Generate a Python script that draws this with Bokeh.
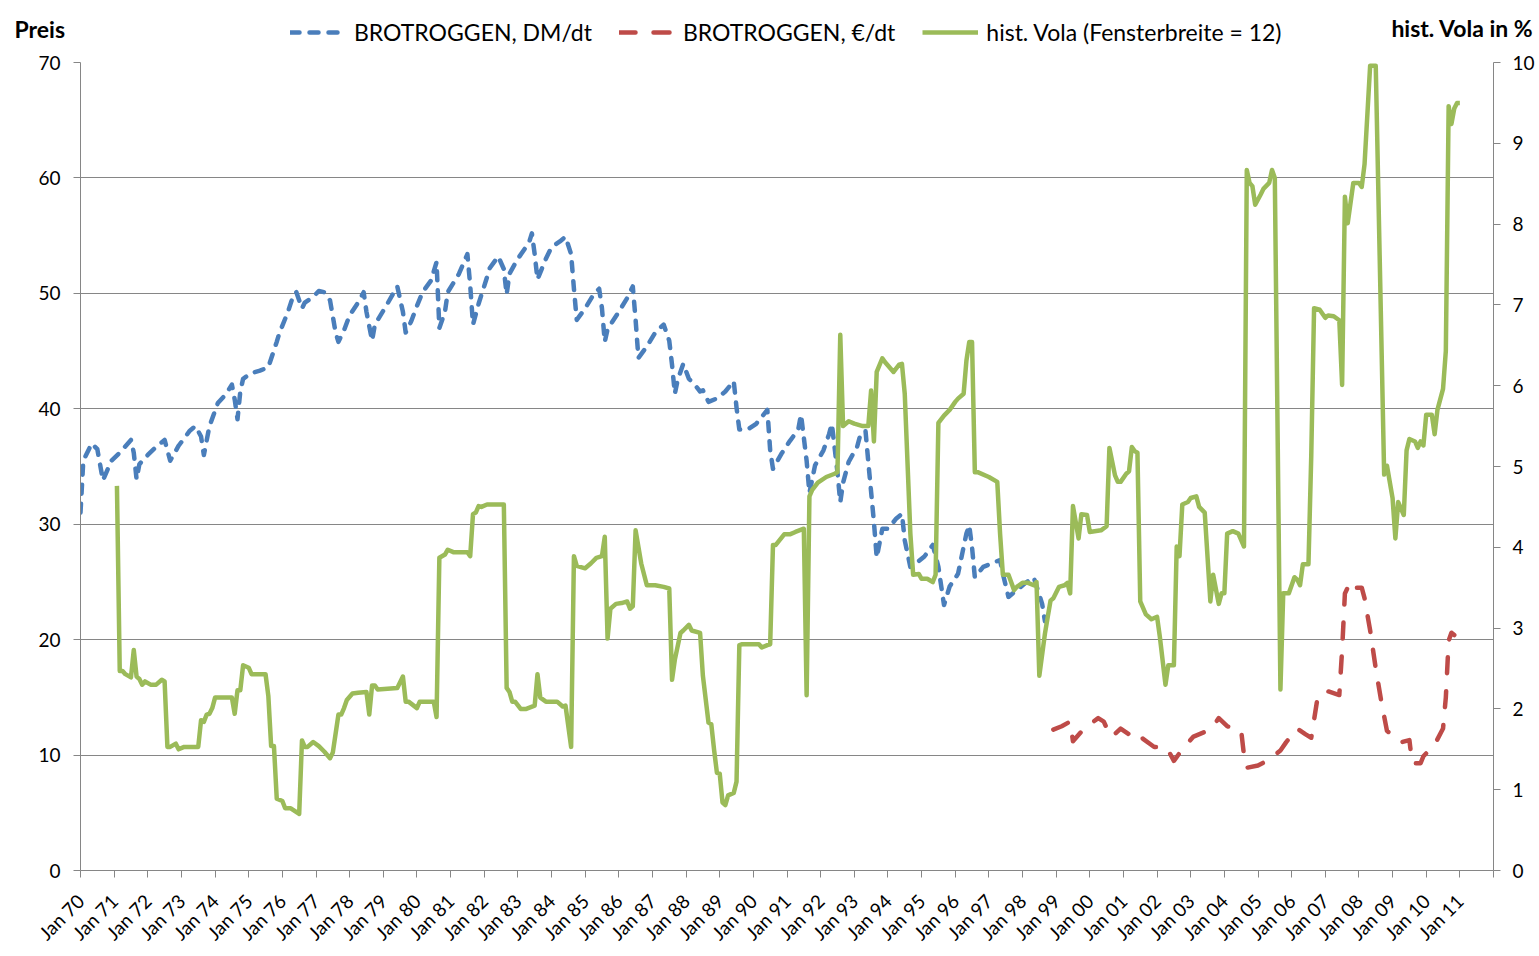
import math
from bokeh.plotting import figure
from bokeh.layouts import column
from bokeh.models import (Range1d, LinearAxis, FixedTicker, Legend, LegendItem, Label)
from bokeh.embed import file_html
from bokeh.resources import INLINE

# ---------------- data (month index: 0 = Jan 1970) ----------------
dm_month = [0, 1, 4, 6, 8, 11, 14, 18, 19, 20, 21, 24, 27, 30, 32, 35, 39, 41, 43, 44, 46, 49, 52, 54, 55, 56, 57, 58,
            61, 64, 67, 70, 71, 74, 76, 77, 79, 80, 83, 85, 87, 89, 91, 92, 94, 96, 99, 101, 102, 104, 105, 109, 113,
            115, 116, 118, 120, 122, 125, 127, 128, 130, 131, 135, 138, 139, 140, 142, 145, 146, 149, 151, 152, 153,
            156, 160, 161, 162, 163, 166, 168, 171, 173, 175, 176, 177, 180, 183, 185, 186, 187, 188, 192, 195, 197,
            198, 199, 202, 205, 208, 210, 211, 212, 213, 215, 217, 219, 221, 222, 224, 227, 230, 233, 234, 235, 238,
            241, 244, 245, 246, 247, 250, 253, 256, 257, 259, 260, 261, 262, 265, 267, 268, 270, 271, 272, 274, 277,
            278, 280, 281, 283, 284, 286, 288, 291, 293, 294, 296, 298, 301, 304, 306, 308, 310, 313, 316, 317, 318,
            319, 322, 326, 328, 329, 331, 333, 337, 340, 343, 344]
dm_price = [31.0, 35.5, 37.0, 36.5, 33.8, 35.5, 36.2, 37.3, 36.2, 33.9, 35.2, 36.0, 36.7, 37.3, 35.5, 36.8, 38.1, 38.5,
            37.6, 36.0, 38.5, 40.5, 41.3, 42.1, 40.8, 39.1, 41.5, 42.6, 43.1, 43.3, 43.6, 45.8, 46.6, 48.4, 49.9, 50.1,
            48.7, 49.2, 49.7, 50.2, 50.1, 49.4, 46.6, 45.8, 46.8, 48.1, 49.2, 50.1, 48.4, 45.9, 47.3, 48.9, 50.6, 48.4,
            46.6, 47.6, 48.9, 50.1, 51.1, 52.7, 47.0, 48.4, 50.1, 51.7, 53.4, 50.7, 47.3, 49.1, 51.4, 52.2, 53.2, 52.1,
            49.9, 51.7, 53.0, 54.4, 55.2, 53.4, 51.2, 53.0, 54.0, 54.5, 54.9, 53.4, 50.4, 47.7, 48.7, 49.9, 50.4, 48.7,
            45.8, 46.9, 48.4, 49.6, 50.6, 47.7, 44.4, 45.4, 46.6, 47.3, 45.9, 43.8, 41.3, 42.5, 43.9, 42.6, 42.1, 41.5,
            41.6, 40.6, 40.9, 41.5, 42.4, 40.1, 38.2, 38.2, 38.7, 39.6, 39.9, 36.4, 34.8, 36.1, 37.2, 38.2, 39.5, 35.5,
            32.7, 33.9, 35.1, 36.4, 37.8, 38.7, 34.5, 31.9, 33.6, 35.4, 36.7, 37.6, 38.1, 35.4, 30.2, 27.1, 29.6, 29.6,
            30.5, 30.9, 28.6, 26.3, 26.6, 27.2, 28.2, 26.3, 23.0, 24.6, 25.7, 29.2, 29.9, 28.0, 25.4, 26.3, 26.7, 26.9,
            25.7, 23.7, 24.1, 24.9, 25.4, 23.1, 21.6]

eur_month = [347, 350, 353, 354, 358, 363, 365, 367, 368, 371, 374, 377, 379, 383, 387, 388, 390, 393, 397, 402, 404,
             406, 409, 414, 415, 416, 420, 424, 428, 430, 434, 437, 439, 441, 444, 449, 450, 451, 453, 454, 457, 458,
             460, 462, 464, 466, 468, 471, 474, 475, 478, 479, 483, 486, 487, 488, 489, 490]
eur_price = [12.2, 12.5, 12.9, 11.2, 12.3, 13.2, 12.9, 11.8, 11.6, 12.3, 11.8, 12.0, 11.4, 10.7, 10.7, 10.4, 9.5, 10.5,
             11.6, 12.1, 12.5, 13.2, 12.5, 12.1, 10.0, 8.9, 9.1, 9.6, 10.4, 11.1, 12.3, 11.8, 11.5, 14.6, 15.6, 15.2,
             19.1, 24.0, 25.0, 24.5, 24.5, 23.6, 20.8, 17.5, 14.6, 12.1, 11.7, 11.1, 11.3, 9.3, 9.3, 9.9, 10.9, 12.3,
             15.0, 19.9, 20.6, 20.4]

vola_month = [13, 14, 15, 16, 18, 19, 20, 21, 22, 23, 25, 27, 29, 30, 31, 32, 34, 35, 37, 42, 43, 44, 45, 46, 47, 48,
              54, 55, 56, 57, 58, 60, 61, 66, 67, 68, 69, 70, 72, 73, 75, 78, 79, 80, 81, 83, 85, 87, 89, 90, 92, 93,
              94, 95, 97, 99, 102, 103, 104, 105, 106, 113, 115, 116, 117, 120, 121, 126, 127, 128, 130, 131, 133, 138,
              139, 140, 141, 142, 143, 145, 151, 152, 153, 154, 155, 157, 159, 162, 163, 164, 166, 170, 172, 173, 175,
              176, 177, 180, 182, 184, 186, 187, 188, 189, 191, 193, 195, 196, 197, 198, 200, 202, 205, 208, 210, 211,
              212, 214, 215, 217, 218, 221, 222, 224, 225, 226, 227, 228, 229, 230, 231, 233, 234, 235, 236, 242, 243,
              245, 246, 247, 248, 251, 253, 255, 258, 259, 260, 261, 263, 266, 269, 270, 271, 272, 274, 276, 279, 281,
              282, 283, 284, 286, 287, 290, 292, 293, 294, 296, 297, 299, 300, 302, 304, 305, 306, 308, 310, 312, 313,
              315, 316, 317, 318, 319, 320, 324, 327, 328, 329, 331, 333, 334, 336, 338, 340, 341, 342, 344, 345, 346,
              347, 349, 351, 352, 353, 354, 356, 357, 359, 360, 364, 366, 367, 369, 370, 371, 373, 374, 375, 376, 377,
              378, 380, 382, 384, 385, 387, 388, 390, 391, 392, 393, 395, 396, 398, 399, 401, 403, 404, 406, 407, 408,
              409, 411, 413, 415, 416, 417, 418, 419, 421, 422, 424, 425, 426, 428, 429, 431, 433, 434, 435, 436, 438,
              439, 440, 442, 444, 445, 447, 449, 450, 451, 452, 454, 456, 457, 458, 460, 462, 465, 466, 468, 469, 470,
              472, 473, 474, 476, 477, 478, 479, 480, 482, 483, 484, 486, 487, 488, 489, 490, 491, 492]
vola_pct = [4.76, 2.47, 2.47, 2.43, 2.39, 2.73, 2.40, 2.37, 2.30, 2.34, 2.30, 2.30, 2.36, 2.34, 1.53, 1.53, 1.57, 1.50,
            1.53, 1.53, 1.86, 1.84, 1.93, 1.94, 2.01, 2.14, 2.14, 1.94, 2.23, 2.23, 2.54, 2.51, 2.43, 2.43, 2.16, 1.54,
            1.54, 0.89, 0.86, 0.77, 0.77, 0.70, 1.61, 1.53, 1.53, 1.59, 1.54, 1.47, 1.39, 1.46, 1.93, 1.93, 2.01, 2.11,
            2.19, 2.20, 2.21, 1.93, 2.29, 2.29, 2.24, 2.26, 2.40, 2.09, 2.09, 2.01, 2.09, 2.09, 1.90, 3.87, 3.91, 3.97,
            3.94, 3.94, 3.89, 4.41, 4.43, 4.51, 4.50, 4.53, 4.53, 2.26, 2.21, 2.09, 2.09, 2.00, 2.00, 2.04, 2.43, 2.14,
            2.09, 2.09, 2.03, 2.04, 1.53, 3.89, 3.77, 3.74, 3.80, 3.87, 3.89, 4.13, 2.87, 3.24, 3.30, 3.31, 3.33, 3.24,
            3.27, 4.21, 3.80, 3.53, 3.53, 3.51, 3.49, 2.36, 2.61, 2.94, 2.97, 3.04, 2.97, 2.94, 2.41, 1.83, 1.81, 1.49,
            1.21, 1.20, 0.84, 0.81, 0.93, 0.96, 1.10, 2.79, 2.80, 2.80, 2.76, 2.79, 2.80, 4.03, 4.03, 4.16, 4.16, 4.19,
            4.23, 2.17, 4.63, 4.71, 4.80, 4.87, 4.91, 4.93, 6.63, 5.50, 5.56, 5.53, 5.50, 5.50, 5.94, 5.31, 6.17, 6.34,
            6.29, 6.17, 6.26, 6.27, 5.90, 4.17, 3.66, 3.67, 3.61, 3.61, 3.57, 3.66, 5.54, 5.63, 5.70, 5.80, 5.84, 5.90,
            6.31, 6.54, 6.54, 4.93, 4.93, 4.87, 4.81, 4.17, 3.66, 3.66, 3.47, 3.51, 3.56, 3.56, 3.53, 3.57, 2.41, 2.93,
            3.14, 3.34, 3.37, 3.51, 3.53, 3.56, 3.43, 4.51, 4.11, 4.41, 4.40, 4.19, 4.21, 4.26, 5.23, 4.89, 4.81, 4.81,
            4.91, 4.94, 5.24, 5.19, 5.17, 3.33, 3.17, 3.11, 3.14, 2.89, 2.30, 2.54, 2.54, 4.01, 3.89, 4.53, 4.56, 4.61,
            4.63, 4.50, 4.43, 3.33, 3.66, 3.30, 3.43, 3.43, 4.17, 4.20, 4.17, 4.01, 8.67, 8.51, 8.47, 8.24, 8.37, 8.44,
            8.51, 8.67, 8.57, 2.24, 3.43, 3.43, 3.63, 3.60, 3.53, 3.79, 3.79, 5.14, 6.96, 6.94, 6.84, 6.87, 6.86, 6.81,
            6.01, 8.34, 8.01, 8.51, 8.51, 8.46, 8.74, 9.96, 9.96, 4.90, 5.01, 4.61, 4.11, 4.56, 4.40, 5.20, 5.34, 5.31,
            5.23, 5.31, 5.26, 5.64, 5.64, 5.40, 5.70, 5.96, 6.43, 9.46, 9.24, 9.43, 9.50, 9.50]

x_tick_months = [0, 12, 24, 36, 48, 60, 72, 84, 96, 108, 120, 132, 144, 156, 168, 180, 192, 204, 216, 228, 240, 252,
                 264, 276, 288, 300, 312, 324, 336, 348, 360, 372, 384, 396, 408, 420, 432, 444, 456, 468, 480, 492,
                 504]
x_tick_labels = ["Jan 70", "Jan 71", "Jan 72", "Jan 73", "Jan 74", "Jan 75", "Jan 76", "Jan 77", "Jan 78", "Jan 79",
                 "Jan 80", "Jan 81", "Jan 82", "Jan 83", "Jan 84", "Jan 85", "Jan 86", "Jan 87", "Jan 88", "Jan 89",
                 "Jan 90", "Jan 91", "Jan 92", "Jan 93", "Jan 94", "Jan 95", "Jan 96", "Jan 97", "Jan 98", "Jan 99",
                 "Jan 00", "Jan 01", "Jan 02", "Jan 03", "Jan 04", "Jan 05", "Jan 06", "Jan 07", "Jan 08", "Jan 09",
                 "Jan 10", "Jan 11", ""]
price_ticks = [0, 10, 20, 30, 40, 50, 60, 70]
vola_ticks = [0, 1, 2, 3, 4, 5, 6, 7, 8, 9, 10]

series_names = ["BROTROGGEN, DM/dt", "BROTROGGEN, \u20ac/dt", "hist. Vola (Fensterbreite = 12)"]
left_title = "Preis"
right_title = "hist. Vola in %"

# ---------------- styling ----------------
FONT = "Lato"
GRID = "#868686"
BLUE = "#4A7EBB"
RED = "#BE4B48"
GREEN = "#9BBB59"
W = 1539
HDR_H = 50
MAIN_H = 906

BLUE_STYLE = dict(line_color=BLUE, line_width=4.5, line_dash="9 10", line_cap="round", line_join="round")
RED_STYLE = dict(line_color=RED, line_width=4.5, line_dash="16 18", line_cap="round", line_join="round")
GREEN_STYLE = dict(line_color=GREEN, line_width=4.5, line_join="round")

# ---------------- header strip: axis titles + legend ----------------
hdr = figure(width=W, height=HDR_H, output_backend="svg", toolbar_location=None,
             x_range=Range1d(0, W), y_range=Range1d(HDR_H, 0),
             x_axis_type=None, y_axis_type=None, min_border=0)
hdr.frame_align = False
hdr.outline_line_color = None
hdr.xgrid.visible = False
hdr.ygrid.visible = False

# legend proxies (hold no visible data; only carry the line styles for the legend)
nan = float("nan")
d_dm = hdr.line([nan], [nan], **BLUE_STYLE)
d_eur = hdr.line([nan], [nan], **RED_STYLE)
d_vola = hdr.line([nan], [nan], **GREEN_STYLE)

legend = Legend(items=[LegendItem(label=series_names[0], renderers=[d_dm]),
                       LegendItem(label=series_names[1], renderers=[d_eur]),
                       LegendItem(label=series_names[2], renderers=[d_vola])],
                orientation="horizontal", location=(290, 4),
                glyph_width=56, glyph_height=24, label_height=24, label_standoff=8, spacing=27,
                padding=0, margin=0, border_line_color=None, background_fill_alpha=0,
                label_text_font=FONT, label_text_font_size="23px", label_text_color="black")
hdr.add_layout(legend, "center")

hdr.add_layout(Label(x=14, y=28, text=left_title, text_font=FONT, text_font_style="bold",
                     text_font_size="23px", text_align="left", text_baseline="alphabetic",
                     text_color="black"))
hdr.add_layout(Label(x=1533, y=27, text=right_title, text_font=FONT, text_font_style="bold",
                     text_font_size="23px", text_align="right", text_baseline="alphabetic",
                     text_color="black"))

# ---------------- main chart ----------------
p = figure(width=W, height=MAIN_H, output_backend="svg", toolbar_location=None,
           x_range=Range1d(0, 504), y_range=Range1d(0, 70),
           min_border_left=80, min_border_right=46, min_border_top=12, min_border_bottom=86)
p.frame_align = False
p.outline_line_color = None
p.extra_y_ranges = {"vola": Range1d(0, 10)}

p.line(dm_month, dm_price, **BLUE_STYLE)
p.line(eur_month, eur_price, **RED_STYLE)
p.line(vola_month, vola_pct, y_range_name="vola", **GREEN_STYLE)

p.xgrid.visible = False
p.ygrid.grid_line_color = GRID
p.ygrid.grid_line_width = 1

xa = p.xaxis[0]
xa.ticker = FixedTicker(ticks=x_tick_months)
xa.major_label_overrides = {m: lab for m, lab in zip(x_tick_months, x_tick_labels)}
xa.major_label_orientation = math.pi / 4
xa.major_label_standoff = 20

ya = p.yaxis[0]
ya.ticker = FixedTicker(ticks=price_ticks)
ya.major_label_standoff = 13

ra = LinearAxis(y_range_name="vola", ticker=FixedTicker(ticks=vola_ticks))
ra.major_label_standoff = 12
p.add_layout(ra, "right")

for ax in (xa, ya, ra):
    ax.axis_line_color = GRID
    ax.axis_line_width = 1
    ax.major_tick_line_color = GRID
    ax.major_tick_out = 7
    ax.major_tick_in = 0
    ax.minor_tick_out = 0
    ax.minor_tick_in = 0
    ax.minor_tick_line_color = None
    ax.major_label_text_font = FONT
    ax.major_label_text_font_size = "19px"
    ax.major_label_text_color = "black"

layout = column(hdr, p, spacing=0)
open("out.html", "w").write(file_html(layout, INLINE))
